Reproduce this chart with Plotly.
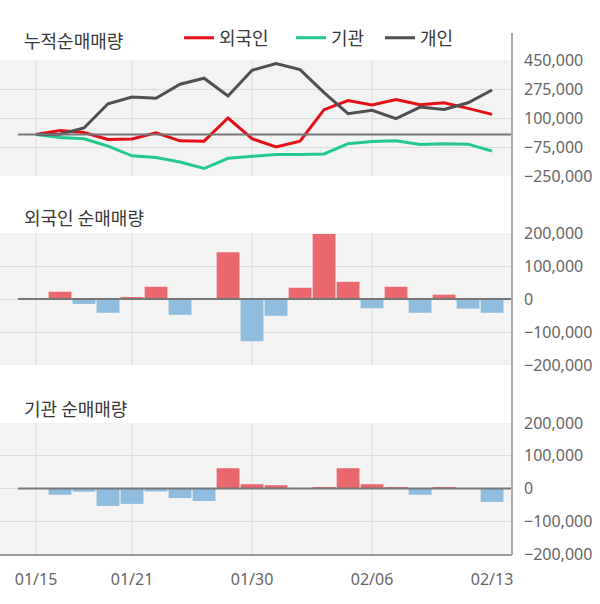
import plotly.graph_objects as go
from plotly.subplots import make_subplots

dates = ["01/15", "01/16", "01/17", "01/20", "01/21", "01/22", "01/23", "01/28", "01/29", "01/30",
         "01/31", "02/03", "02/04", "02/05", "02/06", "02/07", "02/10", "02/11", "02/12", "02/13"]
label_dates = ["01/15", "01/21", "01/30", "02/06", "02/13"]
grid_dates = ["01/15", "01/21", "01/30", "02/06"]

# cumulative net volume (top panel)
foreign_cum = [0, 25000, 12000, -30000, -27000, 10000, -38000, -40000, 100000, -25000,
               -75000, -40000, 150000, 205000, 178000, 212000, 180000, 192000, 158000, 122000]
inst_cum = [0, -18000, -25000, -70000, -128000, -138000, -166000, -205000, -143000, -130000,
            -120000, -120000, -117000, -55000, -42000, -38000, -60000, -55000, -58000, -100000]
indiv_cum = [0, 2000, 40000, 186000, 227000, 219000, 304000, 340000, 233000, 388000,
             428000, 392000, 253000, 126000, 146000, 96000, 166000, 152000, 192000, 269000]

# daily net volume
foreign_net = [0, 22000, -15000, -42000, 5000, 37000, -48000, 0, 142000, -128000,
               -51000, 34000, 197000, 52000, -28000, 37000, -42000, 13000, -29000, -42000]
inst_net = [0, -19000, -10000, -53000, -47000, -9000, -29000, -38000, 62000, 13000,
            10000, 0, 4000, 62000, 13000, 4000, -19000, 4000, 0, -41000]

top_ticks = [450000, 275000, 100000, -75000, -250000]
bar_ticks = [200000, 100000, 0, -100000, -200000]

RED, GREEN, GRAY = "#e50f17", "#22c98a", "#505050"
UP, DOWN = "#e9686d", "#8fbde0"
H, PW = 604, 512
NUM_FONT = "Noto Sans, sans-serif"

x = list(range(len(dates)))
fig = make_subplots(rows=3, cols=1, shared_xaxes=True)

series = [("외국인", foreign_cum, RED, "legend", 179),
          ("기관", inst_cum, GREEN, "legend2", 291),
          ("개인", indiv_cum, GRAY, "legend3", 380)]
for name, vals, color, leg, _ in series:
    fig.add_trace(go.Scatter(x=x, y=vals, mode="lines", name=name, legend=leg,
                             line=dict(color=color, width=3)), row=1, col=1)

for row, vals in ((2, foreign_net), (3, inst_net)):
    fig.add_trace(go.Bar(x=x, y=vals, showlegend=False, width=0.95,
                         marker=dict(color=[UP if v >= 0 else DOWN for v in vals], line_width=0)),
                  row=row, col=1)

domains = [(60, 176), (233, 365), (423, 554)]
for i, (top, bot) in enumerate(domains, start=1):
    fig.update_yaxes(domain=[1 - bot / H, 1 - top / H], row=i, col=1)
    fig.add_hline(y=0, x0=18 / PW, x1=1, line=dict(color="#777777", width=2), row=i, col=1)
    for d in grid_dates:
        fig.add_vline(x=dates.index(d), line=dict(color="#dcdcdc", width=1), layer="below", row=i, col=1)

fig.update_yaxes(side="right", gridcolor="#dcdcdc", gridwidth=1, zeroline=False, showline=False,
                 automargin=False, tickformat=",", ticklabelstandoff=11,
                 tickfont=dict(family=NUM_FONT, size=16, color="#666666"))
fig.update_yaxes(range=[-250000, 450000], tickvals=top_ticks, row=1, col=1)
fig.update_yaxes(range=[-200000, 200000], tickvals=bar_ticks, row=2, col=1)
fig.update_yaxes(range=[-200000, 200000], tickvals=bar_ticks, row=3, col=1)

fig.update_xaxes(range=[-1.5, 19.83], showgrid=False, zeroline=False, automargin=False,
                 tickvals=[dates.index(d) for d in label_dates], ticktext=label_dates,
                 tickfont=dict(family=NUM_FONT, size=16, color="#666666"))
fig.update_xaxes(showticklabels=False, row=1, col=1)
fig.update_xaxes(showticklabels=False, row=2, col=1)
fig.update_xaxes(showline=True, linecolor="#999999", linewidth=2, ticklabelstandoff=10, row=3, col=1)

# right-hand axis rule running through all three panels
fig.add_shape(type="line", xref="paper", yref="paper", x0=1, x1=1,
              y0=1 - 555 / H, y1=1 - 33 / H, line=dict(color="#aaaaaa", width=2))

for text, ypx in (("누적순매매량", 40), ("외국인 순매매량", 217), ("기관 순매매량", 408)):
    fig.add_annotation(text=text, xref="paper", yref="paper", x=22 / PW, y=1 - ypx / H,
                       xanchor="left", yanchor="middle", showarrow=False,
                       font=dict(size=18, color="#383838"))

legend_style = dict(orientation="h", xanchor="left", y=1 - 38 / H, yanchor="middle",
                    bgcolor="rgba(0,0,0,0)", font=dict(size=18, color="#383838"))
fig.update_layout(
    width=600, height=H, margin=dict(l=0, r=600 - PW, t=0, b=0),
    paper_bgcolor="white", plot_bgcolor="#f3f3f3",
    font=dict(family="Noto Sans CJK KR, Noto Sans, sans-serif", color="#666666"),
    bargap=0.04,
    legend=dict(x=series[0][4] / PW, **legend_style),
    legend2=dict(x=series[1][4] / PW, **legend_style),
    legend3=dict(x=series[2][4] / PW, **legend_style),
)

# drop the page's default body margin so the 600x604 figure sits at the window origin
fig.write_html("out.html", config={"displayModeBar": False},
               post_script="document.body.style.margin = '0';")
